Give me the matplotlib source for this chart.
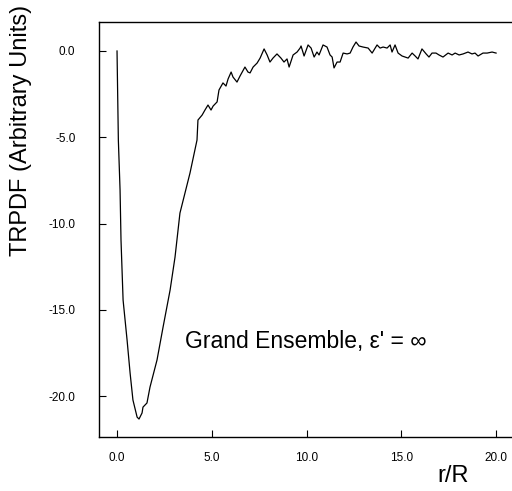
import matplotlib.pyplot as plt

plt.rcParams['font.family'] = ['Liberation Sans', 'DejaVu Sans']

# TRPDF curve (r/R, arbitrary units)
r = [0.0, 0.07, 0.16, 0.21, 0.32, 0.53, 0.69, 0.84, 1.06, 1.16, 1.32, 1.37, 1.58, 1.74,
     2.11, 2.43, 2.80, 3.06, 3.32, 3.85, 4.22, 4.27, 4.49, 4.64, 4.80, 4.96, 5.07, 5.28,
     5.38, 5.59, 5.75, 5.86, 6.02, 6.12, 6.33, 6.49, 6.75, 6.91, 7.02, 7.18, 7.39, 7.55,
     7.76, 7.92, 8.07, 8.23, 8.44, 8.65, 8.81, 8.97, 9.08, 9.29, 9.50, 9.66, 9.71, 9.87,
     10.08, 10.24, 10.40, 10.55, 10.66, 10.87, 11.08, 11.24, 11.35, 11.45, 11.61, 11.77,
     11.93, 12.14, 12.30, 12.45, 12.61, 12.77, 12.98, 13.25, 13.46, 13.72, 13.88, 14.04,
     14.25, 14.41, 14.51, 14.67, 14.83, 15.04, 15.20, 15.36, 15.57, 15.73, 15.88, 16.09,
     16.31, 16.46, 16.62, 16.83, 16.99, 17.20, 17.47, 17.68, 17.84, 18.05, 18.26, 18.52,
     18.73, 18.89, 19.05, 19.31, 19.53, 19.79, 20.0]
trpdf = [0.0, -5.16, -8.05, -10.95, -14.43, -16.74, -18.66, -20.22, -21.21, -21.32, -20.97,
         -20.63, -20.39, -19.47, -17.90, -15.99, -13.85, -11.94, -9.39, -7.07, -5.16, -4.00,
         -3.71, -3.42, -3.13, -3.42, -3.19, -2.95, -2.26, -1.85, -2.03, -1.62, -1.22, -1.51,
         -1.80, -1.45, -0.93, -1.22, -1.27, -0.93, -0.70, -0.41, 0.12, -0.23, -0.64, -0.41,
         -0.17, -0.41, -0.64, -0.46, -0.93, -0.23, -0.06, 0.17, 0.29, -0.29, 0.35, 0.17,
         -0.35, -0.06, -0.23, 0.35, 0.23, -0.23, -0.35, -0.98, -0.64, -0.64, -0.12, -0.17,
         -0.12, 0.23, 0.52, 0.29, 0.23, 0.17, -0.12, 0.35, 0.17, 0.23, 0.17, 0.35, -0.06,
         0.35, -0.12, -0.29, -0.35, -0.41, -0.12, -0.29, -0.46, 0.12, -0.17, -0.35, -0.12,
         -0.12, -0.23, -0.35, -0.12, -0.23, -0.12, -0.23, -0.17, -0.06, -0.17, -0.12, -0.29,
         -0.12, -0.12, -0.06, -0.12]

xticks = [0, 5, 10, 15, 20]
xtick_labels = ["0.0", "5.0", "10.0", "15.0", "20.0"]
yticks = [0, -5, -10, -15, -20]
ytick_labels = ["0.0", "-5.0", "-10.0", "-15.0", "-20.0"]

fig = plt.figure(figsize=(5.12, 4.91), dpi=100)
ax = fig.add_axes([0.1934, 0.110, 0.8125, 0.8452])

ax.plot(r, trpdf, color='black', lw=0.9)

ax.set_xlim(-0.95, 21.0)
ax.set_ylim(-22.36, 1.68)
ax.set_xticks(xticks)
ax.set_xticklabels(xtick_labels)
ax.set_yticks(yticks)
ax.set_yticklabels(ytick_labels)
ax.tick_params(direction='in', length=5, width=0.8, labelsize=8.5)
ax.tick_params(axis='y', pad=17)
ax.tick_params(axis='x', pad=11)
ax.spines['right'].set_visible(False)
for s in ['left', 'top', 'bottom']:
    ax.spines[s].set_linewidth(1.0)

ax.text(3.59, -17.2, "Grand Ensemble, ε' = ∞", fontsize=16.5, ha='left', va='baseline')

fig.text(21 / 512, 1 - 130 / 491, "TRPDF (Arbitrary Units)", rotation=90,
         fontsize=17, ha='center', va='center')
fig.text(453 / 512, 1 - 476 / 491, "r/R", fontsize=17, ha='center', va='center')

fig.savefig("out.png", dpi=100)
